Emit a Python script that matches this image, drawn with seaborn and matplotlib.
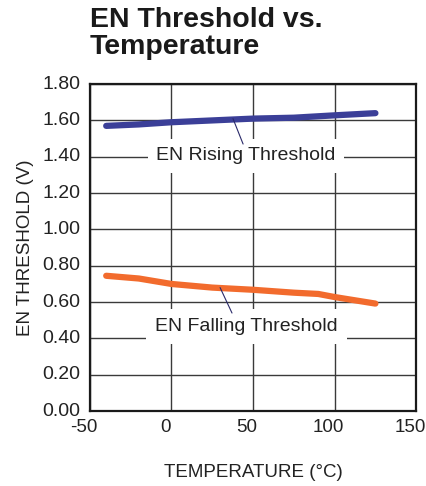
import matplotlib
matplotlib.use("Agg")
import matplotlib.pyplot as plt
import matplotlib.transforms as mtransforms
import seaborn as sns
import pandas as pd

temp_rising = [-40, -20, 0, 25, 50, 75, 100, 125]
en_rising = [1.570, 1.578, 1.590, 1.600, 1.610, 1.615, 1.628, 1.640]
temp_falling = [-40, -20, 0, 25, 50, 75, 90, 100, 125]
en_falling = [0.745, 0.730, 0.700, 0.680, 0.668, 0.652, 0.645, 0.628, 0.592]
x_ticks = [-50, 0, 50, 100, 150]
y_ticks = [0.0, 0.2, 0.4, 0.6, 0.8, 1.0, 1.2, 1.4, 1.6, 1.8]

sns.set_style("white")
plt.rcParams['font.family'] = ['Liberation Sans', 'DejaVu Sans']
plt.rcParams['axes.unicode_minus'] = False

fig = plt.figure(figsize=(4.26, 4.86), dpi=100)
ax = fig.add_axes([0.211, 0.154, 0.766, 0.673])

df_r = pd.DataFrame({"T": temp_rising, "V": en_rising})
df_f = pd.DataFrame({"T": temp_falling, "V": en_falling})
sns.lineplot(data=df_r, x="T", y="V", ax=ax, color="#3b3f98", lw=4.5, zorder=4)
sns.lineplot(data=df_f, x="T", y="V", ax=ax, color="#f26b2d", lw=4.5, zorder=4)

ax.set_xlim(-50, 150)
ax.set_ylim(0, 1.8)
ax.set_xticks(x_ticks)
ax.set_xticklabels([str(v) for v in x_ticks])
ax.set_yticks(y_ticks)
ax.set_yticklabels([f"{v:.2f}" for v in y_ticks])
ax.grid(True, color="#3a3a3a", lw=1.0)
ax.set_axisbelow(True)
for s in ax.spines.values():
    s.set_color("#1a1a1a")
    s.set_linewidth(1.6)
ax.tick_params(axis="x", length=0, labelsize=13.5, colors="#222222", pad=5.5)
ax.tick_params(axis="y", length=0, labelsize=14, colors="#222222", pad=7)

offset = mtransforms.ScaledTranslation(-6 / 100, 0, fig.dpi_scale_trans)
for lab in ax.get_xticklabels():
    lab.set_transform(lab.get_transform() + offset)
yoff = mtransforms.ScaledTranslation(0, 2 / 100, fig.dpi_scale_trans)
for lab in ax.get_yticklabels():
    lab.set_transform(lab.get_transform() + yoff)

ax.set_xlabel("TEMPERATURE (°C)", fontsize=13.5, color="#222222", labelpad=20)
ax.set_ylabel("EN THRESHOLD (V)", fontsize=13.5, color="#222222", labelpad=6)

bbox = dict(facecolor="white", edgecolor="none", boxstyle="square,pad=0.45")
ax.text(45.7, 1.405, "EN Rising Threshold", fontsize=14, color="#222222",
        ha="center", va="center", bbox=bbox, zorder=3)
ax.text(46, 0.465, "EN Falling Threshold", fontsize=14, color="#222222",
        ha="center", va="center", bbox=bbox, zorder=3)
ax.plot([37.7, 43.9], [1.61, 1.47], color="#2a2a6a", lw=0.8, zorder=5)
ax.plot([29.8, 37.1], [0.68, 0.54], color="#2a2a6a", lw=0.8, zorder=5)

fig.text(0.211, 0.985, "EN Threshold vs.\nTemperature", fontsize=20.5, fontweight="bold",
         color="#1a1a1a", ha="left", va="top", linespacing=1.05)

fig.savefig("out.png", dpi=100)
